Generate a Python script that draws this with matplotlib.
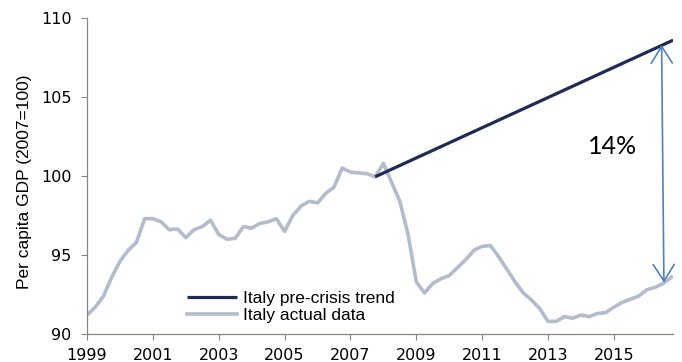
import matplotlib
matplotlib.use('Agg')
import matplotlib.pyplot as plt
import numpy as np

# quarterly per capita GDP, 1999Q1 .. 2016Q4 (2007=100)
actual = [
    91.2, 91.7, 92.4, 93.6,    # 1999
    94.6, 95.3, 95.8, 97.3,    # 2000
    97.3, 97.1, 96.6, 96.65,   # 2001
    96.1, 96.6, 96.8, 97.2,    # 2002
    96.3, 96.0, 96.05, 96.8,   # 2003
    96.7, 97.0, 97.1, 97.3,    # 2004
    96.5, 97.5, 98.1, 98.4,    # 2005
    98.3, 98.9, 99.3, 100.5,   # 2006
    100.25, 100.2, 100.15, 99.95,  # 2007
    100.8, 99.6, 98.4, 96.3,   # 2008
    93.3, 92.6, 93.2, 93.5,    # 2009
    93.7, 94.2, 94.7, 95.3,    # 2010
    95.55, 95.6, 94.9, 94.1,   # 2011
    93.3, 92.6, 92.15, 91.6,   # 2012
    90.8, 90.8, 91.1, 91.0,    # 2013
    91.2, 91.1, 91.3, 91.35,   # 2014
    91.7, 92.0, 92.2, 92.4,    # 2015
    92.8, 92.95, 93.2, 93.6,   # 2016
]
quarters = [1999 + i / 4 for i in range(len(actual))]

# pre-crisis trend: straight line from 2007Q4 onward
trend_x = [2007.75, 2016.8]
trend_y = [99.95, 108.6]

gap_x = [2016.45, 2016.52]
gap_y = [108.3, 93.25]
gap_label = "14%"

xticks = [1999, 2001, 2003, 2005, 2007, 2009, 2011, 2013, 2015]
yticks = [90, 95, 100, 105, 110]

fig = plt.figure(figsize=(6.82, 3.62), dpi=100)
ax = fig.add_axes([0.1276, 0.0773, 0.8594, 0.8729])

ax.plot(trend_x, trend_y, color="#1f2a55", linewidth=2.3, label="Italy pre-crisis trend",
        solid_capstyle="butt", zorder=3)
ax.plot(quarters, actual, color="#b3bccd", linewidth=2.6, label="Italy actual data", zorder=2)

# double-headed arrow marking the gap
ax.annotate("", xy=(gap_x[0], gap_y[0]), xytext=(gap_x[1], gap_y[1]),
            arrowprops=dict(arrowstyle="<->,head_length=0.6,head_width=0.38",
                            color="#4f81bd", lw=1.2, mutation_scale=20,
                            shrinkA=0, shrinkB=0), zorder=4)
ax.text(2014.96, 101.9, gap_label, fontsize=18, family="Lato", ha="center", va="center")

ax.set_xlim(1999, 2016.8)
ax.set_ylim(90, 110)
ax.set_xticks(xticks)
ax.set_yticks(yticks)

for s in ["top", "right"]:
    ax.spines[s].set_visible(False)
for s in ["left", "bottom"]:
    ax.spines[s].set_color("#8a8678")
    ax.spines[s].set_linewidth(0.9)
ax.tick_params(direction="out", length=4, width=0.8, color="#8a8678",
               labelsize=11.5, pad=7)
ax.tick_params(axis="x", pad=6)

ax.set_ylabel("Per capita GDP (2007=100)", family="Liberation Sans", fontsize=12.5)
ax.yaxis.set_label_coords(-0.094, 0.483)

leg = ax.legend(loc="center left", bbox_to_anchor=(0.1706, 0.0854), frameon=False,
                prop={"family": "Liberation Sans", "size": 12.5},
                handlelength=2.9, handletextpad=0.3, labelspacing=0.15,
                borderpad=0, borderaxespad=0)

plt.savefig("out.png", dpi=100)
